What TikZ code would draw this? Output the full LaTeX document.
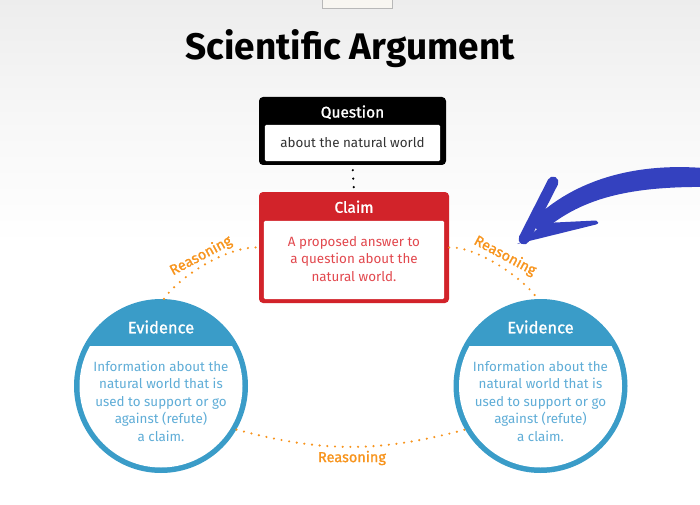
\documentclass[tikz,border=0pt]{standalone}
\usepackage{fontspec}
\setmainfont{Fira Sans}
\newfontfamily\medfont[FakeBold=1.2]{Fira Sans}
\usetikzlibrary{calc}
\definecolor{claimred}{HTML}{D2232A}
\definecolor{claimtxt}{HTML}{E2484E}
\definecolor{evblue}{HTML}{3A9CC8}
\definecolor{evtxt}{HTML}{5FADD7}
\definecolor{reasonorange}{HTML}{F7941D}
\definecolor{arrowblue}{HTML}{3441BF}
\definecolor{cardfill}{HTML}{F8F6F1}
\tikzset{
  hdr/.style={text=white, font=\medfont\fontsize{15.5}{17}\selectfont, inner sep=0},
  boxframe/.style={rectangle, rounded corners=4pt, inner sep=0},
  evcircle/.style={circle, fill=evblue, minimum size=174pt, inner sep=0},
  bodytext/.style={align=center, inner sep=0, font=\fontsize{13.4}{17.5}\selectfont},
  reason/.style={reasonorange, line width=2.4pt, line cap=round, dash pattern=on 0pt off 7.7pt},
  reasonlabel/.style={text=reasonorange, font=\medfont\fontsize{14.5}{16}\selectfont, inner sep=0},
  qdots/.style={line width=2.4pt, line cap=round, dash pattern=on 0pt off 8.5pt, dash phase=3.5pt},
}
\begin{document}
\begin{tikzpicture}[x=1pt,y=1pt]
  \useasboundingbox (0,0) rectangle (700,504);
  % background
  \shade[top color=black!7, bottom color=white, middle color=black!3] (0,260) rectangle (700,504);
  \filldraw[fill=cardfill, draw=black!28] (322,504) -- (322,496) -- (392,496) -- (392,504);
  \node[font=\bfseries\fontsize{37}{40}\selectfont, inner sep=0] (title) at (350,455) {Scientific Argument};

  % question
  \node[boxframe, fill=black, minimum width=187pt, minimum height=68pt] (question) at (352.5,373) {};
  \fill[white, rounded corners=1.5pt] ($(question.south west)+(6,4)$) rectangle ($(question.north east)+(-6,-28)$);
  \node[hdr] (qhead) at ($(question.north)+(0,-15.5)$) {Question};
  \node[bodytext, text=black!80] (qbody) at ($(question.center)+(0,-12)$) {about the natural world};

  % claim
  \node[boxframe, fill=claimred, minimum width=190pt, minimum height=111pt] (claim) at (354,256.5) {};
  \fill[white, rounded corners=1.5pt] ($(claim.south west)+(5,4)$) rectangle ($(claim.north east)+(-5,-29)$);
  \node[hdr] (chead) at ($(claim.north)+(0,-15)$) {Claim};
  \node[bodytext, text=claimtxt] (cbody) at ($(claim.center)+(0,-11.5)$) {A proposed answer to\\a question about the\\natural world.};

  \draw[qdots] (question.south) -- (claim.north);

  % evidence
  \node[evcircle] (evL) at (161,118) {};
  \node[evcircle] (evR) at (540.5,118) {};
  \foreach \e in {evL,evR} {
    \begin{scope}
      \clip (\e.center) circle (81.5);
      \fill[white] ($(\e.center)+(-90,40)$) rectangle ($(\e.center)+(90,-90)$);
    \end{scope}
    \node[hdr, font=\medfont\fontsize{16.5}{18}\selectfont] (\e head) at ($(\e.center)+(0,59)$) {Evidence};
    \node[bodytext, text=evtxt] (\e body) at ($(\e.center)+(0,-15)$) {Information about the\\natural world that is\\used to support or go\\against (refute)\\a claim.};
  }

  % reasoning
  \draw[reason] (evL.88) .. controls (177,225) and (225,258) .. (claim.west);
  \draw[reason] (claim.east) .. controls (476.5,258) and (524.5,225) .. (evR.92);
  \draw[reason] (evL.-30) to[bend right=15] (evR.210);
  \node[reasonlabel, rotate=28] (rleft) at (201,248) {Reasoning};
  \node[reasonlabel, rotate=-28] (rright) at (505,248) {Reasoning};
  \node[reasonlabel] (rbottom) at (352,46) {Reasoning};

  % arrow
  \coordinate (arrtail) at (714,326);
  \coordinate (arrtip) at (521,262);
  \fill[arrowblue] ($(arrtail)+(0,9)$) .. controls (640,343) and (574,326) .. (530,281)
    -- (541,271) .. controls (584,310) and (640,318) .. ($(arrtail)+(0,-9)$) -- cycle;
  \draw[arrowblue, line width=11pt, line cap=round] ($(arrtip)+(3,3)$) -- (553,322);
  \fill[arrowblue] ($(arrtip)+(-4,-2)$) -- (596,279.5) .. controls (599,281) .. (596,283.5) -- (545,281) -- (arrtip) -- cycle;
\end{tikzpicture}
\end{document}
